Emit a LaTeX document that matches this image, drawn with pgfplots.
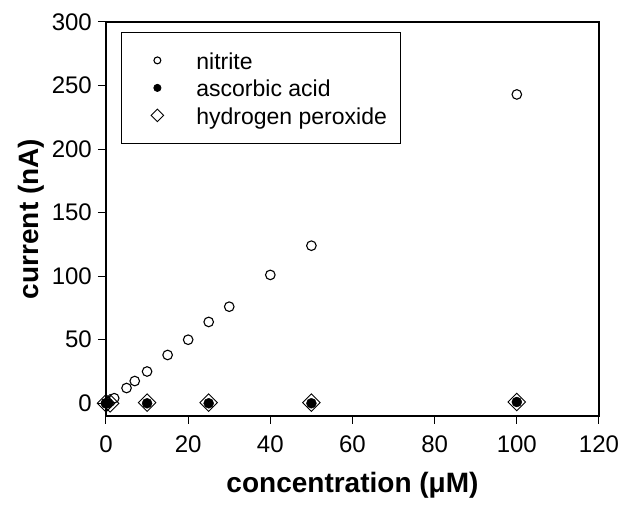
\documentclass[border=0pt]{standalone}
\usepackage{fontspec}
\setmainfont{Liberation Sans}
\usepackage{pgfplots}
\pgfplotsset{compat=1.18}
\usetikzlibrary{calc}
\begin{document}
\fontsize{24}{28}\selectfont
\begin{tikzpicture}
\begin{axis}[
  scale only axis,
  width=493pt, height=394pt,
  xmin=0, xmax=120, ymin=-10, ymax=300,
  xtick={0,20,...,120}, ytick={0,50,...,300},
  tick align=outside, major tick length=8pt,
  xtick pos=bottom, ytick pos=left,
  axis line style={line width=1.6pt},
  every tick/.style={line width=1pt, black},
  tick label style={font=\fontsize{24}{28}\selectfont},
  /pgf/number format/assume math mode=true,
  xticklabel style={inner sep=0pt, yshift=-12pt},
  yticklabel style={inner sep=0pt, xshift=-6pt},
  xlabel={\bfseries concentration (μM)},
  ylabel={\bfseries current (nA)},
  label style={font=\fontsize{28}{32}\selectfont},
  xlabel style={at={(axis description cs:0.5,-0.193)}, anchor=base},
  ylabel style={at={(axis description cs:-0.151,0.5)}, anchor=center},
  clip=false,
  legend style={at={(rel axis cs:0,1)}, anchor=north west, xshift=15pt, yshift=-10pt,
    draw=black, line width=0.8pt, font=\fontsize{23}{27}\selectfont,
    inner xsep=11pt, inner ysep=15pt, row sep=1.5pt,
    nodes={inner sep=2pt, text height=20pt, text depth=2pt},
    legend cell align=left},
  legend image code/.code={%
    \draw[draw=none, fill=none] (0pt,-4pt) rectangle (62pt,4pt);
    \draw[#1, every mark/.append style={scale=0.72}] plot coordinates {(25pt,0pt)};},
]
\addplot[only marks, mark=*, mark size=4.8pt, mark options={fill=white, draw=black, line width=1.1pt}]
  coordinates {(0,0) (1,1.5) (2,4) (5,12) (7,17.5) (10,25) (15,38) (20,50) (25,64) (30,76) (40,101) (50,124) (100,243)};
\addlegendentry{nitrite}
\addplot[only marks, mark=*, mark size=5pt, mark options={fill=black, draw=black}]
  coordinates {(0,0) (0.5,0) (10,0) (25,0) (50,0) (100,1)};
\addlegendentry{ascorbic acid}
\addplot[only marks, mark=square, mark size=6.2pt, mark options={rotate=45, draw=black, line width=0.9pt}]
  coordinates {(0,0) (1,0) (10,0.5) (25,0.5) (50,0.5) (100,1)};
\addlegendentry{hydrogen peroxide}
\end{axis}
\path ($(current axis.south west)+(-106pt,-81pt)$) rectangle ($(current axis.north east)+(20pt,22pt)$);
\end{tikzpicture}
\end{document}
